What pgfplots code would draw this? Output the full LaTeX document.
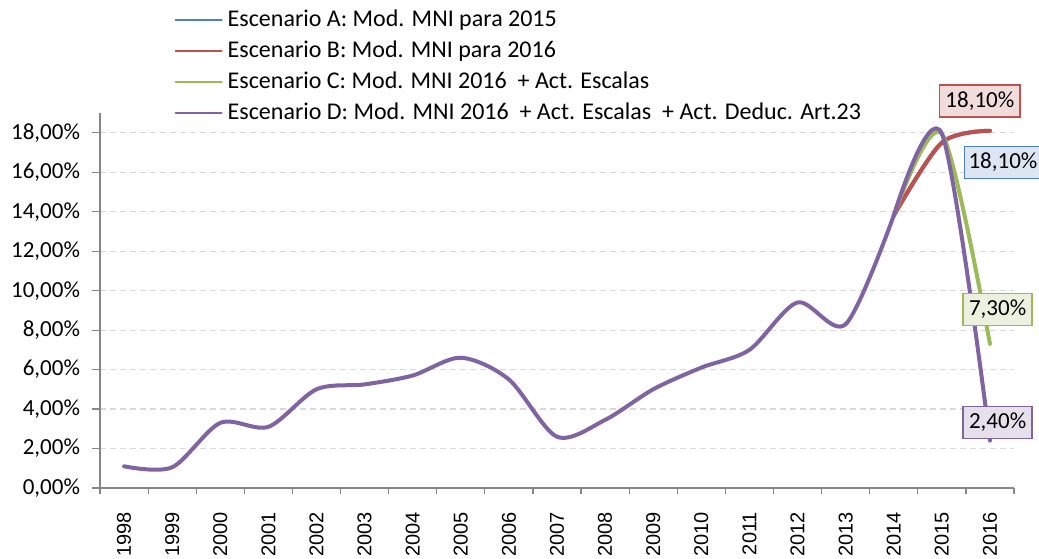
\documentclass[border=0pt]{standalone}
\usepackage{fontspec}
\setmainfont{Carlito}
\newfontfamily\arialfont{Liberation Sans}
\usepackage{pgfplots}
\usepackage{pgfplotstable}
\pgfplotsset{compat=1.18}

\definecolor{serA}{HTML}{4F81BD}
\definecolor{serB}{HTML}{C0504D}
\definecolor{serC}{HTML}{9BBB59}
\definecolor{serD}{HTML}{8064A2}
\definecolor{axgray}{HTML}{868686}
\definecolor{gridgray}{HTML}{D9D9D9}

% idx: 0 = 1998 ... 18 = 2016
\pgfplotstableread{
idx common
0  1.1
1  1.05
2  3.3
3  3.1
4  5.0
5  5.25
6  5.7
7  6.6
8  5.5
9  2.6
10 3.45
11 5.0
12 6.1
13 7.0
14 9.4
15 8.3
16 13.8
}\base

\pgfplotstableread{
idx A B C D
16 13.8 13.8 13.8 13.8
17 17.5 17.5 17.95 17.95
18 18.1 18.1 7.3  2.4
}\tail

\begin{document}
\begin{tikzpicture}
\begin{axis}[
    at={(0pt,0pt)}, anchor=south west,
    scale only axis,
    width=457pt, height=187.5pt,
    xmin=-0.5, xmax=18.5,
    ymin=0, ymax=19,
    clip=false,
    axis lines=left,
    axis line style={draw=axgray, line width=0.6pt, -},
    tick style={draw=axgray, line width=0.6pt},
    tick align=outside,
    xtick={0,...,18},
    xticklabels={1998,1999,2000,2001,2002,2003,2004,2005,2006,2007,2008,2009,2010,2011,2012,2013,2014,2015,2016},
    xticklabel shift=4.5pt,
    x tick label style={font=\arialfont\fontsize{10}{12}\selectfont, rotate=90, anchor=east},
    major x tick style={draw=none},
    minor xtick={-0.5,0.5,...,18.5},
    minor tick length=3pt,
    ytick={0,2,...,18},
    major tick length=4pt,
    yticklabel={\pgfmathprintnumber[fixed,fixed zerofill,precision=2,use comma]{\tick}\%},
    y tick label style={font=\fontsize{11.5}{13}\selectfont, xshift=-2.5pt, /pgf/number format/assume math mode=true},
    ymajorgrids=true,
    grid style={draw=gridgray, line width=0.6pt, dash pattern=on 3pt off 2pt},
    legend style={
        at={(axis description cs:0.0813,1.285)}, anchor=north west,
        draw=none, fill=none,
        font=\fontsize{12}{14}\selectfont,
        row sep=2pt,
        inner sep=0pt,
        nodes={inner xsep=2.5pt, inner ysep=1pt, text height=9pt, text depth=2.5pt}
    },
    legend cell align=left,
    legend image code/.code={\draw[#1, line width=1pt] (0pt,0pt) -- (23pt,0pt);},
    every axis plot/.append style={line width=2pt, line cap=round, line join=round, smooth, tension=0.5, no markers},
]
\addplot[serA] table[x=idx, y=A] {\tail};
\addlegendentry{Escenario A: Mod. MNI para 2015}
\addplot[serB] table[x=idx, y=B] {\tail};
\addlegendentry{Escenario B: Mod. MNI para 2016}
\addplot[serC] table[x=idx, y=C] {\tail};
\addlegendentry{Escenario C: Mod. MNI 2016~ + Act. Escalas}
\addplot[serD] table[x=idx, y=common] {\base};
\addlegendentry{Escenario D: Mod. MNI 2016~ + Act. Escalas~ + Act. Deduc. Art.23}
\addplot[serD, forget plot] table[x=idx, y=D] {\tail};

\node[draw=serB, fill=serB!20, line width=0.8pt, inner xsep=3pt, minimum height=16pt, font=\fontsize{11.5}{13}\selectfont] at (axis cs:17.79,19.6) {18,10\%};
\node[draw=serA, fill=serA!20, line width=0.8pt, inner xsep=2pt, minimum height=16pt, font=\fontsize{11.5}{13}\selectfont] at (axis cs:18.27,16.5) {18,10\%};
\node[draw=serC, fill=serC!20, line width=0.8pt, inner xsep=3pt, minimum height=16pt, font=\fontsize{11.5}{13}\selectfont] at (axis cs:18.16,9.05) {7,30\%};
\node[draw=serD, fill=serD!20, line width=0.8pt, inner xsep=3pt, minimum height=16pt, font=\fontsize{11.5}{13}\selectfont] at (axis cs:18.16,3.32) {2,40\%};
\end{axis}
\pgfresetboundingbox
\useasboundingbox (-50pt,-35pt) rectangle (469.5pt,244pt);
\end{tikzpicture}
\end{document}
